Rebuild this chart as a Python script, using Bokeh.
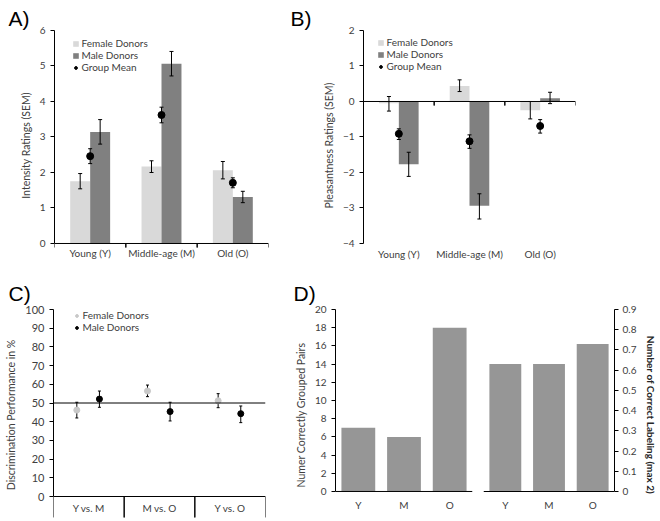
from bokeh.plotting import figure
from bokeh.models import (ColumnDataSource, FactorRange, Range1d, Legend, LegendItem,
                          Span, FixedTicker, NumeralTickFormatter)
from bokeh.core.properties import value
from bokeh.transform import dodge
from bokeh.layouts import row, column
from bokeh.embed import file_html
from bokeh.resources import INLINE

# ---------------- data ----------------
age_groups = ["Young (Y)", "Middle-age (M)", "Old (O)"]

# Panel A: intensity ratings
a_female = [1.75, 2.17, 2.06]
a_female_lo = [1.54, 2.00, 1.82]
a_female_hi = [1.97, 2.33, 2.31]
a_male = [3.14, 5.06, 1.31]
a_male_lo = [2.80, 4.72, 1.15]
a_male_hi = [3.49, 5.41, 1.47]
a_mean = [2.46, 3.62, 1.71]
a_mean_lo = [2.25, 3.40, 1.57]
a_mean_hi = [2.67, 3.84, 1.85]

# Panel B: pleasantness ratings
b_female = [-0.05, 0.44, -0.25]
b_female_lo = [-0.27, 0.28, -0.49]
b_female_hi = [0.14, 0.61, 0.0]
b_male = [-1.77, -2.94, 0.09]
b_male_lo = [-2.11, -3.31, -0.06]
b_male_hi = [-1.43, -2.60, 0.26]
b_mean = [-0.91, -1.12, -0.69]
b_mean_lo = [-1.07, -1.32, -0.89]
b_mean_hi = [-0.77, -0.94, -0.51]

# Panel C: discrimination performance
comparisons = ["Y vs. M", "M vs. O", "Y vs. O"]
c_female = [46.2, 56.4, 51.2]
c_female_lo = [42.0, 53.4, 47.5]
c_female_hi = [50.4, 59.6, 55.0]
c_male = [52.1, 45.4, 44.3]
c_male_lo = [47.7, 40.4, 39.5]
c_male_hi = [56.4, 50.4, 48.4]
chance_level = 50

# Panel D
d_groups = ["Y", "M", "O"]
d_pairs = [7, 6, 18]
d_labeling = [0.63, 0.63, 0.73]

# ---------------- style ----------------
FONT = "Lato"
TXT = "#404040"
FEMALE_C = "#d9d9d9"
MALE_C = "#808080"
D_C = "#969696"
C_FEMALE = "#c8c8c8"


def base(p, letter=None, offset=0, standoff=0):
    p.outline_line_color = None
    p.xgrid.visible = False
    p.ygrid.visible = False
    if letter:
        p.title.text = letter
        p.title.align = "left"
        p.title.offset = offset
        p.title.standoff = standoff
        p.title.text_font = "Liberation Sans"
        p.title.text_font_size = "21px"
        p.title.text_font_style = "normal"
        p.title.text_color = "black"


def style_axis(ax, label_size="10px"):
    ax.axis_line_color = "black"
    ax.axis_line_width = 1
    ax.major_label_text_font = FONT
    ax.major_label_text_font_size = label_size
    ax.major_label_text_color = TXT
    ax.axis_label_text_font = FONT
    ax.axis_label_text_font_size = "10.5px"
    ax.axis_label_text_font_style = "normal"
    ax.axis_label_text_color = TXT
    ax.minor_tick_line_color = None
    ax.major_tick_in = 0
    ax.major_tick_out = 4
    ax.major_tick_line_color = "black"


def errbars(p, src, col, off, lo, hi, color="black", cap=4):
    xs = dodge(col, off, range=p.x_range)
    p.segment(x0=xs, x1=xs, y0=lo, y1=hi, source=src, line_color=color, line_width=1)
    p.scatter(x=dodge(col, off, range=p.x_range), y=lo, marker="dash", size=cap,
              source=src, line_color=color, line_width=1)
    p.scatter(x=dodge(col, off, range=p.x_range), y=hi, marker="dash", size=cap,
              source=src, line_color=color, line_width=1)


def legend(p, items, loc, lh=12):
    lg = Legend(items=items, location=loc, orientation="vertical",
                background_fill_alpha=0, border_line_color=None,
                padding=0, spacing=0, margin=0,
                glyph_width=7, glyph_height=7, label_height=lh,
                label_standoff=3,
                label_text_font=FONT, label_text_font_size="10px",
                label_text_color=TXT)
    p.add_layout(lg)


def boundary_ticks(p, src, col, y0, y1):
    for off in (-0.5, 0.5):
        xs = dodge(col, off, range=p.x_range)
        p.segment(x0=xs, x1=xs, y0=y0, y1=y1, source=src, line_color="black", line_width=1)


def category_labels(p, src, col, y, size="10px"):
    p.text(x=col, y=y, text=col, source=src, text_font=value(FONT),
           text_font_size=size, text_color=TXT, text_align="center",
           text_baseline="middle")


def zero_line(p):
    p.add_layout(Span(location=0, dimension="width", line_color="black", line_width=1))


W_BAR = 0.28

# ---------------- Panel A ----------------
srcA = ColumnDataSource(dict(g=age_groups, f=a_female, flo=a_female_lo, fhi=a_female_hi,
                             m=a_male, mlo=a_male_lo, mhi=a_male_hi,
                             mean=a_mean, mnlo=a_mean_lo, mnhi=a_mean_hi))
pA = figure(x_range=FactorRange(*age_groups), y_range=Range1d(-0.479, 6),
            width=285, height=260, min_border_left=54, min_border_right=17,
            min_border_top=30, min_border_bottom=0, x_axis_location=None,
            output_backend="svg", toolbar_location=None)
base(pA, "A)", -46, standoff=2)
rF = pA.vbar(x=dodge("g", -0.14, range=pA.x_range), top="f", bottom=0, width=W_BAR,
             source=srcA, fill_color=FEMALE_C, line_color=None)
rM = pA.vbar(x=dodge("g", 0.14, range=pA.x_range), top="m", bottom=0, width=W_BAR,
             source=srcA, fill_color=MALE_C, line_color=None)
zero_line(pA)
boundary_ticks(pA, srcA, "g", 0, -0.113)
errbars(pA, srcA, "g", -0.14, "flo", "fhi")
errbars(pA, srcA, "g", 0.14, "mlo", "mhi")
errbars(pA, srcA, "g", 0.0, "mnlo", "mnhi")
rMean = pA.scatter(x="g", y="mean", source=srcA, size=7, marker="circle",
                   fill_color="black", line_color="black")
category_labels(pA, srcA, "g", -0.27)
style_axis(pA.yaxis[0])
pA.yaxis.bounds = (0, 6)
pA.yaxis.ticker = FixedTicker(ticks=[0, 1, 2, 3, 4, 5, 6])
pA.yaxis.axis_label = "Intensity Ratings (SEM)"
legend(pA, [LegendItem(label="Female Donors", renderers=[rF]),
            LegendItem(label="Male Donors", renderers=[rM]),
            LegendItem(label="Group Mean", renderers=[rMean])], (17.5, 187))

# ---------------- Panel B ----------------
srcB = ColumnDataSource(dict(g=age_groups, f=b_female, flo=b_female_lo, fhi=b_female_hi,
                             m=b_male, mlo=b_male_lo, mhi=b_male_hi,
                             mean=b_mean, mnlo=b_mean_lo, mnhi=b_mean_hi))
pB = figure(x_range=FactorRange(*age_groups), y_range=Range1d(-4.479, 2),
            width=375, height=260, min_border_left=78, min_border_right=85,
            min_border_top=30, min_border_bottom=0, x_axis_location=None,
            output_backend="svg", toolbar_location=None)
base(pB, "B)", -73, standoff=2)
rFb = pB.vbar(x=dodge("g", -0.14, range=pB.x_range), top="f", bottom=0, width=W_BAR,
              source=srcB, fill_color=FEMALE_C, line_color=None)
rMb = pB.vbar(x=dodge("g", 0.14, range=pB.x_range), top="m", bottom=0, width=W_BAR,
              source=srcB, fill_color=MALE_C, line_color=None)
zero_line(pB)
boundary_ticks(pB, srcB, "g", 0, -0.113)
errbars(pB, srcB, "g", -0.14, "flo", "fhi")
errbars(pB, srcB, "g", 0.14, "mlo", "mhi")
errbars(pB, srcB, "g", 0.0, "mnlo", "mnhi")
rMeanb = pB.scatter(x="g", y="mean", source=srcB, size=7, marker="circle",
                    fill_color="black", line_color="black")
category_labels(pB, srcB, "g", -4.3)
style_axis(pB.yaxis[0])
pB.yaxis.bounds = (-4, 2)
pB.yaxis.ticker = FixedTicker(ticks=[-4, -3, -2, -1, 0, 1, 2])
pB.yaxis.axis_label = "Pleasantness Ratings (SEM)"
legend(pB, [LegendItem(label="Female Donors", renderers=[rFb]),
            LegendItem(label="Male Donors", renderers=[rMb]),
            LegendItem(label="Group Mean", renderers=[rMeanb])], (13.5, 188))

# ---------------- Panel C ----------------
srcC = ColumnDataSource(dict(g=comparisons, f=c_female, flo=c_female_lo, fhi=c_female_hi,
                             m=c_male, mlo=c_male_lo, mhi=c_male_hi))
pC = figure(x_range=FactorRange(*comparisons), y_range=Range1d(-12.83, 100),
            width=288, height=260, min_border_left=53, min_border_right=23,
            min_border_top=49, min_border_bottom=0, x_axis_location=None,
            output_backend="svg", toolbar_location=None)
base(pC, "C)", -45, standoff=9)
zero_line(pC)
pC.add_layout(Span(location=chance_level, dimension="width", line_color="black", line_width=1))
boundary_ticks(pC, srcC, "g", 0, -11.2)
errbars(pC, srcC, "g", -0.17, "flo", "fhi", cap=3)
errbars(pC, srcC, "g", 0.15, "mlo", "mhi", cap=3)
rFc = pC.scatter(x=dodge("g", -0.17, range=pC.x_range), y="f", source=srcC, size=6,
                 marker="circle", fill_color=C_FEMALE, line_color=C_FEMALE)
rMc = pC.scatter(x=dodge("g", 0.15, range=pC.x_range), y="m", source=srcC, size=6,
                 marker="circle", fill_color="black", line_color="black")
category_labels(pC, srcC, "g", -6.4)
style_axis(pC.yaxis[0], label_size="11px")
pC.yaxis.bounds = (0, 100)
pC.yaxis.ticker = FixedTicker(ticks=list(range(0, 101, 10)))
pC.yaxis.axis_label = "Discrimination Performance in %"
legend(pC, [LegendItem(label="Female Donors", renderers=[rFc]),
            LegendItem(label="Male Donors", renderers=[rMc])], (19.5, 187), lh=12)

# ---------------- Panel D (left) ----------------
srcDL = ColumnDataSource(dict(g=d_groups, v=d_pairs))
pDL = figure(x_range=FactorRange(*d_groups), y_range=Range1d(-3.19, 20),
             width=189, height=260, min_border_left=47, min_border_right=5,
             min_border_top=49, min_border_bottom=0, x_axis_location=None,
             output_backend="svg", toolbar_location=None)
base(pDL, "D)", -42, standoff=9)
pDL.vbar(x="g", top="v", bottom=0, width=0.74, source=srcDL, fill_color=D_C, line_color=None)
zero_line(pDL)
category_labels(pDL, srcDL, "g", -1.54)
style_axis(pDL.yaxis[0])
pDL.yaxis.bounds = (0, 20)
pDL.yaxis.ticker = FixedTicker(ticks=list(range(0, 21, 2)))
pDL.yaxis.axis_label = "Numer Correctly Grouped Pairs"

# ---------------- Panel D (right) ----------------
srcDR = ColumnDataSource(dict(g=d_groups, v=d_labeling))
pDR = figure(x_range=FactorRange(*d_groups), y_range=Range1d(-0.1434, 0.9),
             width=183, height=260, min_border_left=6, min_border_right=41,
             min_border_top=49, min_border_bottom=0, y_axis_location="right",
             x_axis_location=None, output_backend="svg", toolbar_location=None)
base(pDR)
pDR.vbar(x="g", top="v", bottom=0, width=0.73, source=srcDR, fill_color=D_C, line_color=None)
zero_line(pDR)
category_labels(pDR, srcDR, "g", -0.0692)
style_axis(pDR.yaxis[0])
pDR.yaxis.bounds = (0, 0.9)
pDR.yaxis.ticker = FixedTicker(ticks=[i / 10 for i in range(10)])
pDR.yaxis.formatter = NumeralTickFormatter(format="0.[0]")
pDR.yaxis.axis_label = "Number of Correct Labeling (max 2)"
pDR.yaxis.axis_label_text_font_style = "bold"
pDR.yaxis.axis_label_text_font_size = "10px"
pDR.yaxis.axis_label_text_color = "#262626"
pDR.yaxis.axis_label_standoff = 6
pDR.yaxis.major_label_standoff = 4

layout = column(row(pA, pB), row(pC, pDL, pDR))
open("out.html", "w").write(file_html(layout, INLINE))
